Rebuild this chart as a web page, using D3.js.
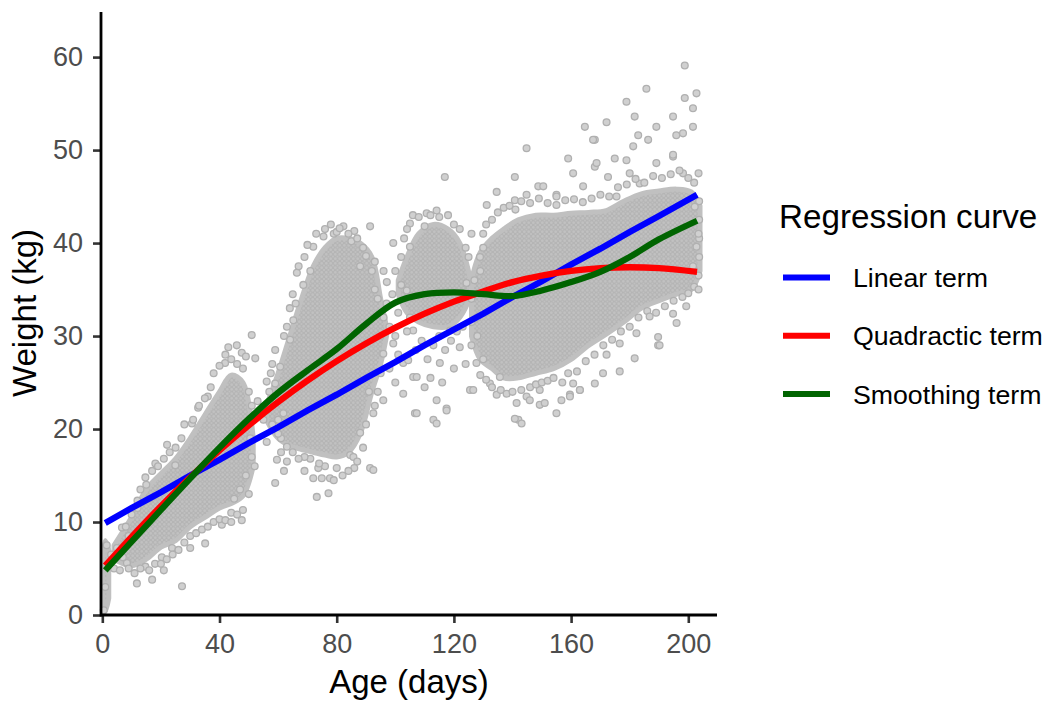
<!DOCTYPE html>
<html>
<head>
<meta charset="utf-8">
<style>
    body { margin: 0; background: #fff; }
    text { font-family: "Liberation Sans", Arial, sans-serif; }
    .axis .tick line { stroke: #333; stroke-width: 2.6; }
    .axis text { fill: #4d4d4d; font-size: 27px; }
    .pts { fill: #d0d0d0; stroke: #b0b0b0; stroke-width: 1.3; }
    .fit { fill: none; stroke-width: 6.3; stroke-linecap: butt; }
</style>
</head>
<body>
<svg id="chart"></svg>
<script src="https://d3js.org/d3.v7.min.js"></script>
<script>
    // tick labels
    var xTicks = [0, 40, 80, 120, 160, 200];
    var yTicks = [0, 10, 20, 30, 40, 50, 60];

    // fitted curves at these ages
    var fitAge = [1, 10, 20, 30, 40, 50, 60, 70, 80, 90, 100, 110, 120, 130, 140, 150, 160, 170, 180, 190, 203];
    var linearFit = [9.9, 11.5, 13.2, 15.0, 16.7, 18.5, 20.2, 22.0, 23.7, 25.5, 27.2, 29.0, 30.7, 32.4, 34.2, 35.9, 37.7, 39.4, 41.2, 42.9, 45.2];
    var quadraticFit = [5.3, 8.4, 11.7, 14.8, 17.7, 20.4, 22.9, 25.2, 27.3, 29.2, 30.9, 32.4, 33.7, 34.8, 35.8, 36.5, 37.0, 37.3, 37.4, 37.3, 36.9];
    var smoothFit = [4.8, 7.9, 11.3, 14.7, 18.0, 21.1, 23.9, 26.3, 28.6, 31.3, 33.6, 34.5, 34.7, 34.5, 34.3, 34.9, 35.8, 36.9, 38.5, 40.4, 42.4];

    var fitNames = ['Linear term', 'Quadractic term', 'Smoothing term'];
    var fitColors = ['#0000ff', '#ff0000', '#006400'];

    // dense (overplotted) parts of the scatter: [age, lowest weight, highest weight]
    var denseBirth = [[0.2, 1.0, 6.0], [1.0, 0.4, 8.0], [2.2, 1.8, 7.0]];
    var denseEarly = [[4, 6, 7.5], [10, 5.3, 10.5], [15, 6, 13.5], [20, 7.3, 15.2], [25, 8, 16.8], [30, 9.5, 19], [35, 10.5, 21.5], [40, 11.5, 24], [44, 12, 25.8], [48, 12.8, 25], [51.5, 16, 19]];
    var denseMid = [[56, 21, 22.5], [60, 19, 26], [64, 18.2, 30], [68, 17.8, 34], [72, 17.5, 37.5], [76, 17.2, 39.5], [80, 17, 40.5], [84, 17.5, 40.5], [88, 19.5, 40], [92, 24, 38.5], [95, 27, 34], [97, 30, 31]];
    var denseLate1 = [[101, 34.5, 36], [104, 32.5, 38.5], [108, 31.5, 41], [113, 31, 42], [118, 31, 41.5], [122, 32, 40], [126, 34.5, 35.5]];
    var denseLate2 = [[126, 30, 36], [129, 27.5, 39], [133, 26.5, 40.5], [137, 25.5, 41.5], [142, 25.5, 42.5], [148, 26, 43], [154, 26.5, 43], [160, 27.5, 43.2], [166, 29, 43.3], [172, 30.2, 43.5], [178, 31.5, 44.5], [184, 33, 45.3], [190, 33.8, 45.6], [196, 34.5, 45.8], [201, 35, 45.5], [204, 37, 44]];

    // single animals away from the dense parts: [age, weight]
    var loosePoints = [
        // first weeks
        [0.5, 0.5], [1, 3], [1.5, 7.5], [3, 6.5], [5, 7.2], [6.7, 9.4], [8.4, 5.6], [7, 6.2], [11.8, 3.4], [14.7, 5.2],
        [20.3, 6.2], [23.8, 7.2], [27.2, 3.1], [30, 7.2], [35.1, 7.7], [40.8, 9.7], [47.6, 10.2], [12, 11.5], [14.7, 14.8],
        [18.1, 16.3], [22.1, 18.3], [24.9, 16.1], [30.6, 20.6], [32.7, 22.3], [36, 23.5], [41.9, 27.1], [45.9, 29.0],
        [47.6, 28.2], [51, 30.1], [52.2, 27.6], [56.1, 25.1], [56.1, 18.6], [59.6, 16.7], [59, 14.2], [50, 13], [52, 16],
        [9, 8.5], [16, 12.5], [26, 14], [44, 11], [53, 23], [55, 21], [57.5, 26], [58, 20.5], [60.7, 26.7], [63, 18.1], [64.1, 29.6],
        [8, 9.5], [10, 10.8], [12, 12.3], [13, 13.5], [15, 14], [17, 15.5], [19, 16], [21, 16.8], [23, 17.5], [25, 18], [27, 19],
        [28, 20.5], [31, 21], [33, 22.5], [35, 23.3], [37, 24.5], [38, 26], [40, 26.8], [42, 28], [43, 28.8], [44, 27.5],
        [46, 27], [48, 26.5], [49, 27.8], [50, 24], [51, 22.5], [50.5, 19], [51, 17], [49, 15], [47, 13.5], [45, 12.5],
        [4, 5], [6, 4.8], [9, 5], [11, 4.5], [13, 5], [16, 4.8], [18, 5.5], [20, 5.5], [22, 6], [24, 6.5], [26, 7], [28, 7.8],
        [30, 8.5], [32, 8.8], [34, 9.2], [36, 9.5], [38, 10], [40, 10.3], [42, 10.2], [44, 10], [46, 10.8], [48, 11.3], [17, 3.8], [21, 4.8],
        // around day 80
        [82.3, 41.8], [91.4, 41.8], [72, 39.6], [75.5, 40.7], [66.4, 36.8], [68.6, 35.5], [65.2, 31.7], [99.3, 40], [97.1, 35.8],
        [95.9, 28.1], [99.3, 29.2], [102.7, 27.1], [106.1, 25.6], [102.7, 23.8], [106.7, 21.7], [95.9, 23.1], [59, 24.9],
        [61.8, 21.7], [72, 14.7], [74.9, 14.7], [77.7, 14.7], [73.7, 15.8], [73.2, 12.7], [77.2, 13.1], [91.4, 15.8], [88, 19.6],
        [84.6, 17.2], [92.5, 21.7], [92.5, 15.6], [85.7, 17], [79, 41], [86, 41.3], [93, 38], [96, 32], [88, 37.5], [69, 15.5],
        [56, 22], [57, 24], [58, 27], [59, 28.5], [60, 21], [61, 19], [62, 30], [63, 31], [64, 33], [65, 34.5], [66, 33.5],
        [67, 37.5], [69, 38.5], [70, 39.8], [71, 37], [73, 41], [76, 41.5], [78, 42], [80, 41.2], [81, 41.6], [84, 41], [85, 40.2],
        [87, 40.5], [89, 39.5], [90, 38.6], [92, 37], [93, 35], [94, 34], [95, 30], [95, 26], [94, 24], [93, 22.5], [91, 24],
        [90, 20.5], [89, 18], [87, 16.5], [86, 15.8], [84, 15.5], [82, 15], [80, 15.8], [79, 14.5], [76, 16], [74, 16.3],
        [71, 16.8], [69, 17], [67, 16.8], [65, 17.5], [63, 16.5], [61, 17.5], [60, 19.5], [62, 15.5],
        [96, 37], [97, 33.5], [98, 31], [99, 34.5], [100, 37], [100, 30], [101, 32.5], [102, 35.5], [102, 38.5], [98, 26.5], [100, 25], [101, 28],
        // around day 115
        [134.6, 45.5], [144.8, 45.2], [155, 45.2], [131.2, 44.1], [140.8, 44.6], [105, 42.1], [114.1, 43.5], [110.7, 43.2],
        [126, 41], [130, 41], [105, 39.6], [103.9, 34.9], [106.1, 30.6], [104.4, 27.4], [107.3, 25.6], [114.1, 23.1],
        [117.5, 22.2], [113, 21], [107.3, 21.7], [125.5, 24.2], [127.7, 27.1], [132.3, 24.9], [135.7, 25.6], [141.4, 22.8],
        [142, 21], [144.8, 23.5], [149.3, 24.2], [118.7, 30.6], [122, 28.8], [115.2, 27.1], [124.3, 35.7], [128.9, 38.5],
        [116.9, 47.1], [144.8, 50.2], [140.8, 47.1], [148.8, 46.1], [140.8, 21.1], [143.1, 20.6], [155, 21.7], [149.3, 22.6],
        [145.9, 23.1], [134.6, 23.7], [126.6, 24.2], [163, 24.2], [159.6, 23.7], [114.1, 20.6], [117.5, 22],
        [103, 40.5], [104, 41.5], [106, 43], [108, 42.8], [110, 41.8], [112, 43], [115, 42.8], [118, 43], [120, 42], [122, 41.5],
        [124, 39.5], [125, 38.5], [104, 30.5], [105, 32], [107, 28.5], [109, 29.5], [111, 27.5], [113, 29], [115, 30], [117, 28.5],
        [119, 29.5], [121, 30.5], [123, 31], [110, 24.5], [112, 25.5], [116, 25], [120, 26.5], [124, 27],
        [126, 29], [126, 31.5], [126, 34], [127, 36], [128, 32], [128, 30], [129, 37], [129, 25.8], [130, 27.5], [130, 39.5],
        // later weeks
        [198.8, 59.1], [185.7, 56.6], [202.8, 56.1], [198.8, 55.6], [178.9, 55.2], [201.6, 54.5], [172.1, 53], [164.7, 52.5],
        [181.7, 53.6], [194.8, 53.6], [189.1, 52.5], [201.6, 52.5], [168.1, 51.1], [182.9, 51.6], [195.9, 51.6], [186.3, 51.1],
        [174.9, 49.1], [159, 49.1], [168.1, 48.2], [178.9, 48.9], [189.1, 48.6], [194.8, 49.3], [160.7, 47.5], [172.6, 47.1],
        [180, 47.5], [183.4, 46.4], [198.2, 47.5], [155, 45], [150.5, 46.1], [164.1, 46.1], [175.5, 45], [167.5, 51.1],
        [181.2, 50.4], [198.2, 51.8], [194.8, 49.5], [168.7, 48.6],
        [131, 42], [133, 42.5], [135, 43.3], [137, 43.8], [139, 44], [141, 43.6], [143, 44.5], [146, 44.3], [149, 44.8], [152, 44.3],
        [155, 44.1], [158, 44.6], [161, 44.7], [164, 44.4], [167, 44.8], [170, 45.2], [173, 45], [176, 46], [179, 46.3], [182, 46.9],
        [185, 46.5], [188, 47.2], [191, 47], [194, 47.4], [197, 47.8], [200, 47], [202, 46.5], [203.5, 47.5],
        [131, 25.3], [133, 24.5], [136, 24.2], [138, 23.8], [140, 24], [143, 24.2], [146, 24.5], [148, 24.8], [150, 25], [152, 25.2],
        [154, 25.5], [157, 25], [159, 26], [162, 26.2], [165, 27.3], [168, 28], [171, 29], [174, 29.6], [177, 30.5], [180, 31],
        [183, 32], [186, 32.7], [189, 32.5], [192, 33.2], [195, 33.8], [198, 34.2], [200, 34.6], [202, 35.3], [203.5, 36.5],
        [203.7, 38.5], [203.7, 40.5], [203.7, 42.5], [203.7, 44.5],
        [199.3, 33.2], [194.8, 32.4], [196, 31.4], [189.7, 29.9], [189.7, 29], [186.8, 32.1], [182.3, 30.3], [181.7, 27.6],
        [176.6, 29.2], [176.6, 26.2], [172.1, 28], [170.9, 26], [168.1, 24.9], [163, 24.2], [159.6, 23.5], [156.7, 23.1],
        [151, 22.8], [160.7, 24.9], [201.6, 37.5], [202.8, 39.6], [202.2, 43.9], [190.2, 29], [203.5, 41], [203.5, 35]
    ];

    var width = 1051;
    var height = 702;

    var svg = d3.select('#chart')
        .attr('width', width)
        .attr('height', height);

    // plot box: left 101, right 717, top 12, bottom 615
    var x = d3.scaleLinear().domain([-0.45, 209.8]).range([101, 717]);
    var y = d3.scaleLinear().domain([0, 64.85]).range([615, 12]);

    // ring texture for the dense overplotted areas
    var pat = svg.append('defs').append('pattern')
        .attr('id', 'dense')
        .attr('patternUnits', 'userSpaceOnUse')
        .attr('width', 4.5)
        .attr('height', 4.5);
    pat.append('rect').attr('width', 4.5).attr('height', 4.5).attr('fill', '#c2c2c2');
    pat.append('circle').attr('cx', 2.25).attr('cy', 2.25).attr('r', 1.9)
        .attr('fill', 'none').attr('stroke', '#b0b0b0').attr('stroke-width', 0.9);

    var band = d3.area()
        .x(function (d) { return x(d[0]); })
        .y0(function (d) { return y(d[1]); })
        .y1(function (d) { return y(d[2]); })
        .curve(d3.curveCatmullRom);

    svg.append('g')
        .selectAll('path')
        .data([denseBirth, denseEarly, denseMid, denseLate1, denseLate2])
        .join('path')
        .attr('d', band)
        .attr('fill', 'url(#dense)')
        .attr('stroke', '#c0c0c0')
        .attr('stroke-width', 5)
        .attr('stroke-linejoin', 'round');

    svg.append('g')
        .selectAll('circle')
        .data(loosePoints)
        .join('circle')
        .attr('class', 'pts')
        .attr('cx', function (d) { return x(d[0]); })
        .attr('cy', function (d) { return y(d[1]); })
        .attr('r', 3.4);

    // fitted curves
    var fits = [linearFit, quadraticFit, smoothFit];
    fits.forEach(function (vals, i) {
        var line = d3.line()
            .x(function (d, j) { return x(fitAge[j]); })
            .y(function (d) { return y(d); })
            .curve(i === 0 ? d3.curveLinear : d3.curveCatmullRom);
        svg.append('path')
            .attr('class', 'fit')
            .attr('stroke', fitColors[i])
            .attr('d', line(vals));
    });

    // axes
    svg.append('g')
        .attr('class', 'axis')
        .attr('transform', 'translate(0,615)')
        .call(d3.axisBottom(x).tickValues(xTicks).tickSize(8).tickSizeOuter(0).tickPadding(11));

    svg.append('g')
        .attr('class', 'axis')
        .attr('transform', 'translate(101,0)')
        .call(d3.axisLeft(y).tickValues(yTicks).tickSize(8).tickSizeOuter(0).tickPadding(10));

    // axis lines: drawn by hand so they meet at the corner and span the panel
    svg.selectAll('.axis .domain').remove();
    svg.append('line')
        .attr('x1', 101).attr('x2', 717).attr('y1', 615).attr('y2', 615)
        .attr('stroke', '#000').attr('stroke-width', 2.8);
    svg.append('line')
        .attr('x1', 101).attr('x2', 101).attr('y1', 12).attr('y2', 616.4)
        .attr('stroke', '#000').attr('stroke-width', 2.8);

    // axis titles
    svg.append('text')
        .attr('x', 409).attr('y', 693)
        .attr('text-anchor', 'middle')
        .attr('font-size', 33)
        .text('Age (days)');

    svg.append('text')
        .attr('transform', 'translate(36,313) rotate(-90)')
        .attr('text-anchor', 'middle')
        .attr('font-size', 33)
        .text('Weight (kg)');

    // legend
    var legend = svg.append('g');
    legend.append('text')
        .attr('x', 779).attr('y', 228)
        .attr('font-size', 33.2)
        .text('Regression curve');

    var items = legend.selectAll('g.item')
        .data(fitNames)
        .join('g')
        .attr('class', 'item')
        .attr('transform', function (d, i) { return 'translate(0,' + (277.5 + i * 58.3) + ')'; });

    items.append('line')
        .attr('x1', 783).attr('x2', 830)
        .attr('stroke', function (d, i) { return fitColors[i]; })
        .attr('stroke-width', 6);

    items.append('text')
        .attr('x', 853).attr('y', 9.5)
        .attr('font-size', 26.7)
        .text(function (d) { return d; });
</script>
</body>
</html>
